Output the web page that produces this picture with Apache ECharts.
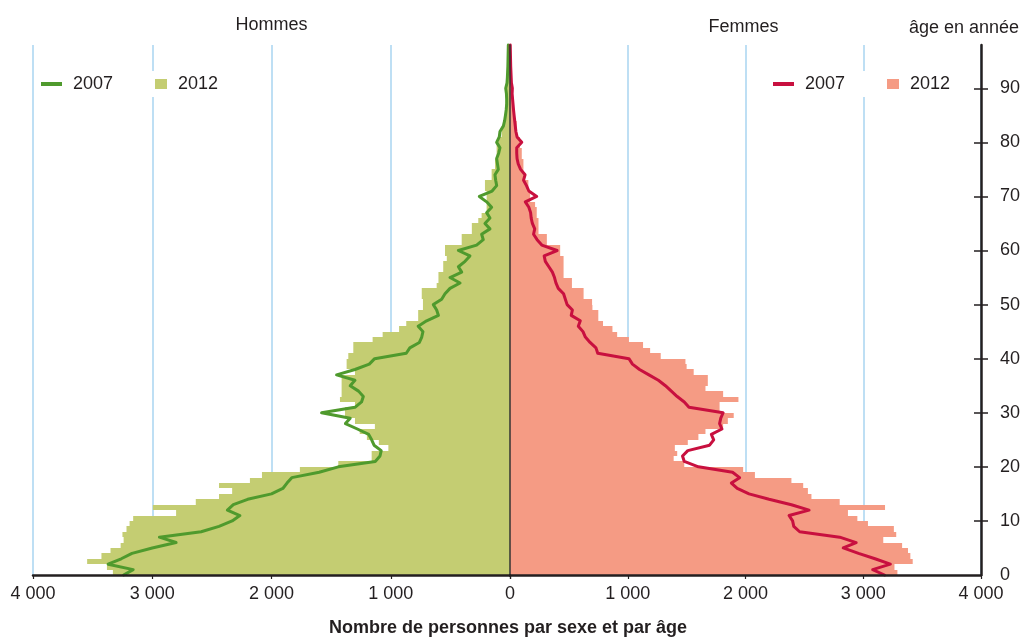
<!DOCTYPE html>
<html>
<head>
<meta charset="utf-8">
<script src="https://cdn.jsdelivr.net/npm/echarts@6/dist/echarts.min.js"></script>
<style>
html,body{margin:0;padding:0;background:#ffffff;}
#chart{width:1028px;height:641px;}
</style>
</head>
<body>
<div id="chart"></div>
<script>
// ---- Data (persons per single year of age, bars = 2012, lines = 2007) ----
// Hommes 2012, ages 0..97
const hommes2012 = [3330,3380,3546,3426,3350,3265,3240,3250,3216,3190,
  3160,2800,2995,2635,2440,2330,2440,2181,2080,1762,
  1440,1160,1160,1020,1100,1200,1260,1133,1300,1384,
  1384,1300,1426,1412,1412,1412,1412,1300,1370,1370,
  1356,1314,1314,1152,1068,930,870,770,770,730,
  730,740,740,615,600,600,560,560,530,545,
  545,405,405,320,320,266,238,196,196,196,
  196,210,210,154,154,126,126,112,112,112,
  98,70,70,42,42,42,42,28,28,28,
  28,20,16,14,12,10,8,6];
// Femmes 2012, ages 0..97
const femmes2012 = [3290,3265,3420,3400,3380,3330,3170,3280,3260,3040,
  2950,2870,3185,2800,2560,2530,2490,2390,2080,1980,
  1480,1390,1420,1400,1510,1600,1660,1810,1850,1900,
  1780,1780,1940,1810,1660,1680,1680,1560,1500,1490,
  1280,1190,1130,1010,910,870,790,750,750,700,
  697,625,625,526,526,455,455,455,455,426,
  426,313,313,242,242,242,227,227,213,171,
  171,156,156,128,114,114,114,100,100,85,
  85,57,57,57,35,30,28,25,22,20,
  20,16,14,12,10,8,6,5];
// Hommes 2007, ages 0..98
const hommes2007 = [3240,3160,3370,3260,3170,3000,2800,2940,2590,2440,
  2330,2265,2370,2320,2200,2000,1905,1870,1830,1600,
  1440,1130,1090,1080,1140,1160,1185,1280,1380,1340,
  1580,1300,1245,1230,1270,1340,1300,1454,1300,1180,
  1135,870,840,760,740,730,770,699,600,615,
  643,573,545,503,419,503,405,433,377,336,
  433,280,224,238,168,210,168,196,154,196,
  257,150,112,120,126,98,105,112,95,84,
  112,90,84,56,45,38,32,28,28,30,
  36,25,22,20,18,17,16,15,14];
// Femmes 2007, ages 0..98
const femmes2007 = [3180,3080,3230,3100,2960,2830,2940,2800,2460,2410,
  2400,2370,2540,2390,2200,2030,1930,1880,1950,1890,
  1600,1480,1465,1510,1695,1730,1710,1800,1780,1790,
  1810,1520,1480,1420,1370,1320,1260,1180,1100,1040,
  1010,745,730,680,640,620,580,597,520,530,
  485,470,455,410,390,378,360,330,300,290,
  400,270,230,200,210,190,180,175,160,130,
  227,160,140,115,128,90,70,60,57,57,
  100,60,50,45,40,35,30,26,22,18,
  20,12,10,8,6,5,4,3,2];
const ageTicks = [0,10,20,30,40,50,60,70,80,90];
const ageTicksMarks = [10,20,30,40,50,60,70,80,90];

// ---- Styles ----
const FONT = "'Liberation Sans', Arial, sans-serif";
const TXT = '#231f20';
const GREEN_BAR = '#c4cd72';
const GREEN_LINE = '#4f9a2d';
const RED_LINE = '#c8103f';
const SALMON = '#f59b84';
const GRID_BLUE = '#a9d4f1';

function fmt(v){
  return String(Math.abs(v)).replace(/\B(?=(\d{3})+(?!\d))/g, ' ');
}

function barItem(params, api){
  const v = api.value(0), a = api.value(1);
  const p0 = api.coord([0, a]);
  const p1 = api.coord([v, a + 1]);
  const x = Math.min(p0[0], p1[0]);
  const w = Math.abs(p1[0] - p0[0]);
  const yTop = Math.round(p1[1]);
  const yBot = Math.round(p0[1]);
  return {type:'rect', shape:{x:x, y:yTop, width:w, height:yBot - yTop},
          style:{fill: api.visual('color')}};
}

const chart = echarts.init(document.getElementById('chart'), null, {renderer:'canvas'});

const baseX = {
  type:'value', interval:1000, position:'bottom',
  axisLine:{show:false}, axisTick:{show:false}, axisLabel:{show:false},
  splitLine:{show:true, lineStyle:{color:GRID_BLUE, width:1.5}}
};
const overlayX = {
  type:'value', interval:1000, z:10, position:'bottom',
  axisLine:{show:true, onZero:false, lineStyle:{color:TXT, width:2.5}},
  axisTick:{show:true, length:4, lineStyle:{color:TXT, width:1.2}},
  splitLine:{show:false},
  axisLabel:{fontFamily:FONT, fontSize:18, color:TXT, margin:10}
};

const legendText = {fontFamily:FONT, fontSize:18, color:TXT, padding:[0,0,0,6]};
function legendCfg(name, left, w, h, pad){
  return {data:[{name:name, icon:'rect'}], left:left, top:71, itemWidth:w, itemHeight:h,
          padding:pad, backgroundColor:'#ffffff', selectedMode:false,
          formatter:function(n){return n.slice(1);}, textStyle:legendText};
}

const option = {
  animation:false,
  backgroundColor:'#ffffff',
  grid:[
    {left:33, top:45, width:477, height:530, containLabel:false},
    {left:510, top:45, width:471, height:530, containLabel:false}
  ],
  xAxis:[
    Object.assign({}, baseX, {gridIndex:0, min:-4000, max:0}),
    Object.assign({}, baseX, {gridIndex:1, min:0, max:4000}),
    Object.assign({}, overlayX, {gridIndex:0, min:-4000, max:0,
      axisLabel:Object.assign({}, overlayX.axisLabel, {formatter:function(v){return v===0?'':fmt(v);}})}),
    Object.assign({}, overlayX, {gridIndex:1, min:0, max:4000,
      axisLabel:Object.assign({}, overlayX.axisLabel, {formatter:function(v){return fmt(v);}})})
  ],
  yAxis:[
    {type:'value', gridIndex:0, min:0, max:98, position:'right', z:10,
     axisLine:{show:true, onZero:false, lineStyle:{color:'#333333', width:1.5}},
     axisTick:{show:false}, axisLabel:{show:false}, splitLine:{show:false}},
    {type:'value', gridIndex:1, min:0, max:98, interval:10, position:'right', z:10,
     axisLine:{show:true, onZero:false, lineStyle:{color:TXT, width:2.5}},
     axisTick:{show:true, length:7, customValues:ageTicksMarks, lineStyle:{color:TXT, width:1.5}},
     axisLabel:{show:true, customValues:ageTicks, fontFamily:FONT, fontSize:18, color:TXT, margin:19},
     splitLine:{show:false}},
    {type:'value', gridIndex:1, min:0, max:98, interval:10, position:'left', offset:-471, z:10,
     axisLine:{show:false, onZero:false},
     axisTick:{show:true, inside:false, length:7, customValues:ageTicksMarks, lineStyle:{color:TXT, width:1.5}},
     axisLabel:{show:false}, splitLine:{show:false}}
  ],
  legend:[
    legendCfg('H2007', 37, 21, 4, [4,4,4,4]),
    legendCfg('H2012', 149, 12, 10, [4,6,4,6]),
    legendCfg('F2007', 769, 21, 4, [4,22,4,4]),
    legendCfg('F2012', 881, 12, 10, [4,6,4,6])
  ],
  graphic:[
    {type:'text', x:271.5, y:25.5, style:{text:'Hommes', font:'18px ' + FONT, fill:TXT, align:'center', verticalAlign:'middle'}},
    {type:'text', x:743.5, y:27.5, style:{text:'Femmes', font:'18px ' + FONT, fill:TXT, align:'center', verticalAlign:'middle'}},
    {type:'text', x:909, y:28.3, style:{text:'âge en année', font:'18px ' + FONT, fill:TXT, align:'left', verticalAlign:'middle'}},
    {type:'text', x:508, y:628, style:{text:'Nombre de personnes par sexe et par âge', font:'bold 18px ' + FONT, fill:TXT, align:'center', verticalAlign:'middle'}}
  ],
  series:[
    {name:'H2012', type:'custom', xAxisIndex:0, yAxisIndex:0, z:2,
     itemStyle:{color:GREEN_BAR}, renderItem:barItem,
     data:hommes2012.map(function(v,i){return [-v, i];})},
    {name:'F2012', type:'custom', xAxisIndex:1, yAxisIndex:1, z:2,
     itemStyle:{color:SALMON}, renderItem:barItem,
     data:femmes2012.map(function(v,i){return [v, i];})},
    {name:'H2007', type:'line', xAxisIndex:0, yAxisIndex:0, z:3, symbol:'none', clip:false,
     itemStyle:{color:GREEN_LINE},
     lineStyle:{color:GREEN_LINE, width:3, join:'round', cap:'round'},
     data:hommes2007.map(function(v,i){return [-v, i];})},
    {name:'F2007', type:'line', xAxisIndex:1, yAxisIndex:1, z:3, symbol:'none', clip:false,
     itemStyle:{color:RED_LINE},
     lineStyle:{color:RED_LINE, width:3, join:'round', cap:'round'},
     data:femmes2007.map(function(v,i){return [v, i];})}
  ]
};
chart.setOption(option);
</script>
</body>
</html>
